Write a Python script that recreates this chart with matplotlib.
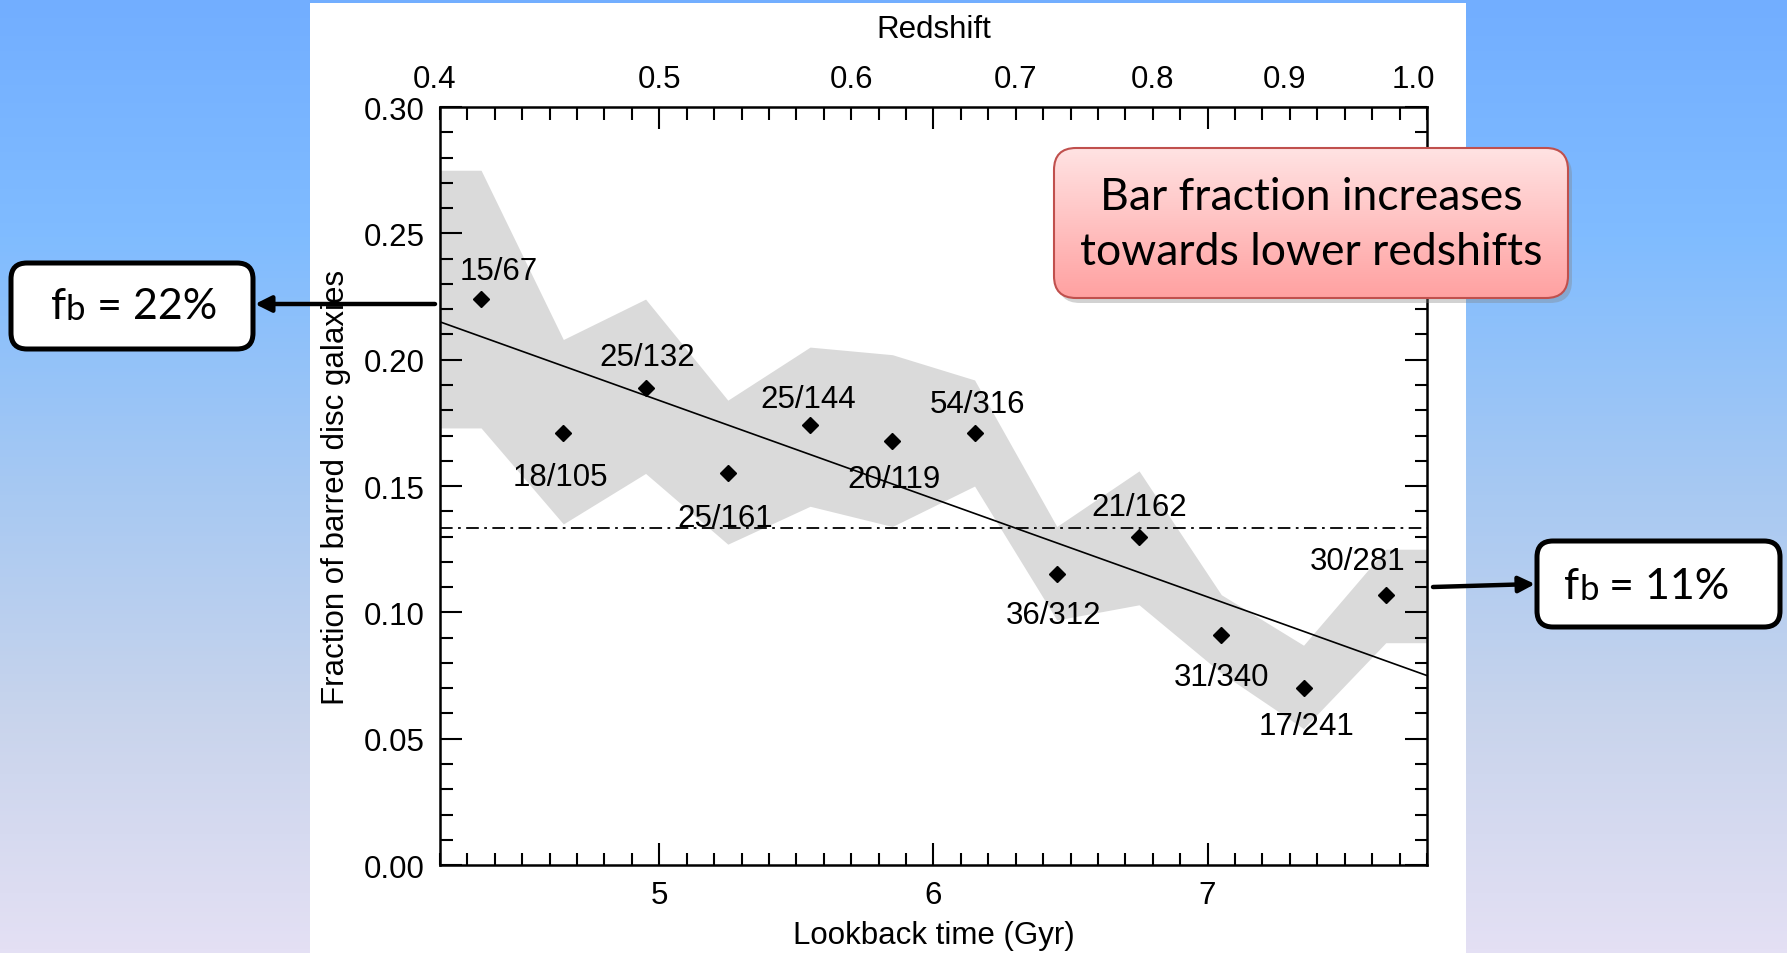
import numpy as np
import matplotlib.pyplot as plt
from matplotlib.patches import FancyBboxPatch, Rectangle
from matplotlib.ticker import MultipleLocator, FormatStrFormatter

# ---- data ----
lookback = [4.35, 4.65, 4.95, 5.25, 5.55, 5.85, 6.15, 6.45, 6.75, 7.05, 7.35, 7.65]
bar_frac = [0.224, 0.171, 0.189, 0.155, 0.174, 0.168, 0.171, 0.115, 0.130, 0.091, 0.070, 0.107]
counts = ["15/67", "18/105", "25/132", "25/161", "25/144", "20/119",
          "54/316", "36/312", "21/162", "31/340", "17/241", "30/281"]
band_upper = [0.275, 0.208, 0.224, 0.184, 0.205, 0.202, 0.192, 0.134, 0.156, 0.107, 0.087, 0.125]
band_lower = [0.173, 0.135, 0.155, 0.127, 0.142, 0.134, 0.150, 0.097, 0.103, 0.076, 0.054, 0.088]
fit_x = [4.2, 7.8]
fit_y = [0.215, 0.075]
mean_frac = 0.1335
redshift_labels = ["0.4", "0.5", "0.6", "0.7", "0.8", "0.9", "1.0"]
redshift_at_lookback = [4.18, 5.0, 5.70, 6.30, 6.80, 7.28, 7.75]

# label offsets (points) from each diamond
label_dx = [13, -2, 1, -2, -1, 1, 2, -2, 0, 0, 2, -20]
label_dy = [20, -32, 22, -32, 19, -28, 21, -29, 21, -30, -27, 24]

W, H = 1787, 954
FS = 22.5
plt.rcParams['font.family'] = ['Liberation Sans', 'DejaVu Sans']

fig = plt.figure(figsize=(W / 100, H / 100), dpi=100)

# slide background (gradient) + white panel
bg = fig.add_axes([0, 0, 1, 1], zorder=-1)
bg.set_xlim(0, W)
bg.set_ylim(H, 0)
bg.axis('off')
stops = np.array([[114, 174, 255], [128, 188, 255], [165, 200, 243],
                  [200, 212, 236], [228, 224, 244]]) / 255.0
t = np.linspace(0, 1, 256)
grad = np.stack([np.interp(t, np.linspace(0, 1, len(stops)), stops[:, c]) for c in range(3)], axis=1)
bg.imshow(grad[:, None, :], extent=(0, W, H, 0), aspect='auto', origin='upper')
bg.add_patch(Rectangle((310, 4), 1156, H, facecolor='white', edgecolor='none'))

# ---- main chart ----
ax = fig.add_axes([0.2462, 0.0922, 0.5523, 0.7945], zorder=1)
ax.set_facecolor('white')

band_x = [fit_x[0]] + lookback + [fit_x[1]]
up = [band_upper[0]] + band_upper + [band_upper[-1]]
lo = [band_lower[0]] + band_lower + [band_lower[-1]]
ax.fill_between(band_x, lo, up, color='#dadada', lw=0, zorder=1)

ax.axhline(mean_frac, color='black', lw=1.3, ls=(0, (7, 3, 1.5, 3)), zorder=2)
ax.plot(fit_x, fit_y, color='black', lw=1.2, zorder=3)
ax.plot(lookback, bar_frac, 'D', color='black', ms=8, zorder=4)

for x, y, lab, dx, dy in zip(lookback, bar_frac, counts, label_dx, label_dy):
    ax.annotate(lab, (x, y), xytext=(dx, dy), textcoords='offset points',
                ha='center', va='center', fontsize=FS, zorder=5)

ax.set_xlim(4.2, 7.8)
ax.set_ylim(0, 0.30)
ax.xaxis.set_major_locator(MultipleLocator(1))
ax.xaxis.set_minor_locator(MultipleLocator(0.1))
ax.yaxis.set_major_locator(MultipleLocator(0.05))
ax.yaxis.set_minor_locator(MultipleLocator(0.01))
ax.yaxis.set_major_formatter(FormatStrFormatter('%.2f'))
ax.tick_params(which='both', direction='in', top=True, right=True, width=1.5,
               labelsize=FS)
ax.tick_params(axis='x', which='major', length=16, pad=11)
ax.tick_params(axis='x', which='minor', length=9)
ax.tick_params(axis='y', which='major', length=16, pad=11)
ax.tick_params(axis='y', which='minor', length=9)
for s in ax.spines.values():
    s.set_linewidth(1.8)

ax.set_xlabel("Lookback time (Gyr)", fontsize=FS, labelpad=7)
ax.set_ylabel("Fraction of barred disc galaxies", fontsize=22.5, labelpad=9)

# redshift labels along the top
for z, lb in zip(redshift_labels, redshift_at_lookback):
    ax.annotate(z, (lb, 1), xycoords=('data', 'axes fraction'), xytext=(0, 20),
                textcoords='offset points', ha='center', va='center',
                fontsize=FS, annotation_clip=False)
ax.annotate("Redshift", (0.5, 1), xycoords='axes fraction', xytext=(0, 56),
            textcoords='offset points', ha='center', va='center', fontsize=FS)

# ---- slide overlays ----
ov = fig.add_axes([0, 0, 1, 1], zorder=5)
ov.set_xlim(0, W)
ov.set_ylim(H, 0)
ov.axis('off')
ov.patch.set_alpha(0)

# red call-out box with gradient and shadow
rx0, ry0, rw, rh = 1054, 149, 514, 150
ov.add_patch(FancyBboxPatch((rx0 + 4, ry0 + 5), rw, rh,
                            boxstyle='round,pad=0,rounding_size=22',
                            facecolor='#808080', edgecolor='none', alpha=0.35))
red_box = FancyBboxPatch((rx0, ry0), rw, rh, boxstyle='round,pad=0,rounding_size=22',
                         facecolor='none', edgecolor='#c0504d', lw=1.5)
ov.add_patch(red_box)
pink = np.stack([np.interp(t, [0, 1], [1.0, 1.0]),
                 np.interp(t, [0, 1], [0.89, 0.63]),
                 np.interp(t, [0, 1], [0.89, 0.63])], axis=1)
im = ov.imshow(pink[:, None, :], extent=(rx0, rx0 + rw, ry0 + rh, ry0),
               aspect='auto', origin='upper', zorder=1)
im.set_clip_path(red_box)
red_box.set_zorder(2)
ov.text(rx0 + rw / 2, ry0 + rh / 2 + 1, "Bar fraction increases\ntowards lower redshifts",
        ha='center', va='center', fontsize=32, family='Lato', linespacing=1.42, zorder=3)


def fb_box(x0, y0, w, h, text_x, baseline, value):
    ov.add_patch(FancyBboxPatch((x0, y0), w, h, boxstyle='round,pad=0,rounding_size=16',
                                facecolor='white', edgecolor='black', lw=3.6, zorder=2))
    t1 = ov.text(text_x, baseline, "f", fontsize=31, family='Lato', va='baseline', zorder=3)
    t2 = ov.annotate("b", (1, 0), xycoords=t1, va='bottom', ha='left',
                     fontsize=25, family='Lato', zorder=3)
    ov.annotate(" = " + value, (1, 0), xycoords=t2, va='bottom', ha='left',
                fontsize=31, family='Lato', zorder=3)


fb_box(11, 264, 242, 86, 51, 319, "22%")
fb_box(1537, 542, 243, 86, 1564, 599, "11%")

arrow = dict(arrowstyle='-|>', lw=3.2, color='black', mutation_scale=24,
             shrinkA=0, shrinkB=0)
ov.annotate("", xy=(255, 305), xytext=(435, 305), arrowprops=arrow, zorder=4)
ov.annotate("", xy=(1535, 585), xytext=(1433, 588), arrowprops=arrow, zorder=4)

fig.savefig("out.png", dpi=100)
